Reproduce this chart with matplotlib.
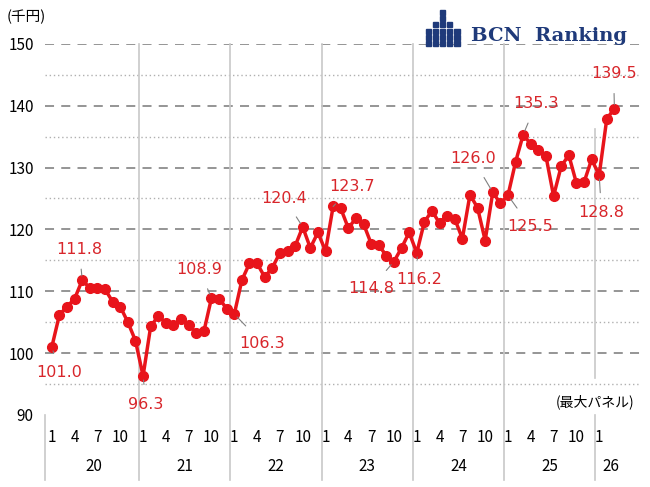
import matplotlib
matplotlib.use("Agg")
import matplotlib.pyplot as plt
from matplotlib.patches import Rectangle

plt.rcParams["font.family"] = ["Noto Sans CJK JP", "DejaVu Sans"]

RED = "#e8141b"
LABEL = "#d8262b"
GRID = "#8c8c8c"

years = ["20", "21", "22", "23", "24", "25", "26"]
month_ticks = ["1", "4", "7", "10"]
prices = [
    101.0, 106.2, 107.5, 108.8, 111.8, 110.5, 110.6, 110.3, 108.3, 107.5, 105.0, 102.0,
    96.3, 104.3, 106.0, 104.9, 104.6, 105.5, 104.5, 103.3, 103.5, 108.9, 108.8, 107.2,
    106.3, 111.8, 114.5, 114.5, 112.3, 113.8, 116.2, 116.5, 117.3, 120.4, 117.0, 119.5,
    116.5, 123.7, 123.4, 120.2, 121.8, 120.9, 117.7, 117.5, 115.7, 114.8, 117.0, 119.5,
    116.2, 121.2, 123.0, 121.0, 122.2, 121.7, 118.5, 125.6, 123.5, 118.2, 126.0, 124.2,
    125.5, 130.9, 135.3, 133.8, 132.8, 131.8, 125.4, 130.2, 132.0, 127.5, 127.6, 131.3,
    128.8, 137.9, 139.5,
]
# index of labelled point, label offset in (months, price units)
callouts = [
    (0, 1.0, -4.2), (4, -0.4, 5.0), (12, 0.4, -4.6), (21, -1.6, 4.6), (24, 3.7, -4.7),
    (33, -2.4, 4.6), (37, 2.5, 3.2), (45, -3.0, -4.3), (48, 0.3, -4.3), (58, -2.6, 5.4),
    (60, 2.9, -5.0), (62, 1.7, 5.0), (72, 0.3, -6.1), (74, -0.1, 5.7),
]

x = list(range(len(prices)))
fig = plt.figure(figsize=(6.5, 4.87), dpi=100)
ax = fig.add_axes([0.069, 0.148, 0.916, 0.762])
ax.set_xlim(-0.92, 77.4)
ax.set_ylim(90, 150)

for v in range(95, 150, 10):
    ax.axhline(v, color="#b0b0b0", lw=1, ls=(0, (1, 2)), zorder=1)
for v in range(100, 151, 10):
    ax.axhline(v, color=GRID, lw=1.3, ls=(0, (5, 4)), zorder=1)

trans = ax.get_xaxis_transform()
BOT = -0.175
for k in range(1, len(years)):
    xs = 12 * k - 0.5
    if k == 6:
        ax.plot([xs, xs], [0.1, 0.77], transform=trans, color="#c8c8c8", lw=1.2, zorder=1)
        ax.plot([xs, xs], [BOT, 0], transform=trans, color="#c8c8c8", lw=1.2, clip_on=False)
    else:
        ax.plot([xs, xs], [BOT, 1.0], transform=trans, color="#c8c8c8", lw=1.2,
                clip_on=False, zorder=1)
ax.plot([-0.92, -0.92], [BOT, 0], transform=trans, color="#c8c8c8", lw=1.2, clip_on=False)

ax.plot(x, prices, color=RED, lw=2.5, marker="o", ms=7, zorder=3)

for i, dx, dy in callouts:
    ax.annotate(f"{prices[i]:.1f}", (x[i], prices[i]), (x[i] + dx, prices[i] + dy),
                ha="center", va="center", color=LABEL, fontsize=11.5,
                family=["DejaVu Sans"],
                arrowprops=dict(arrowstyle="-", color="#808080", lw=0.8, shrinkA=7, shrinkB=3),
                zorder=4)

for s in ax.spines.values():
    s.set_visible(False)
ax.set_xticks([])
ax.set_yticks(range(90, 151, 10))
ax.tick_params(axis="y", length=0, labelsize=11, pad=8)

for k, yr in enumerate(years):
    months = month_ticks if k < 6 else month_ticks[:1]
    for j, m in enumerate(months):
        ax.text(12 * k + 3 * j, -0.06, m, transform=trans, ha="center", va="center", fontsize=11)
    cx = 12 * k + 5.5 if k < 6 else 73.5
    ax.text(cx, -0.14, yr, transform=trans, ha="center", va="center", fontsize=11)

fig.text(0.01, 0.965, "(千円)", fontsize=10.5, va="center")
ax.text(0.99, 0.035, "(最大パネル)", transform=ax.transAxes, ha="right", va="center", fontsize=10)

# BCN Ranking logo
navy = "#1f3a7a"
heights = [3, 4, 6, 4, 3]
for c, h in enumerate(heights):
    for r in range(h):
        fig.patches.append(Rectangle((0.655 + c * 0.011, 0.905 + r * 0.013), 0.008, 0.010,
                                     transform=fig.transFigure, color=navy))
fig.text(0.725, 0.927, "BCN  Ranking", fontsize=14, color=navy, family="DejaVu Serif",
         fontweight="bold", va="center")

fig.savefig("out.png", dpi=100)
